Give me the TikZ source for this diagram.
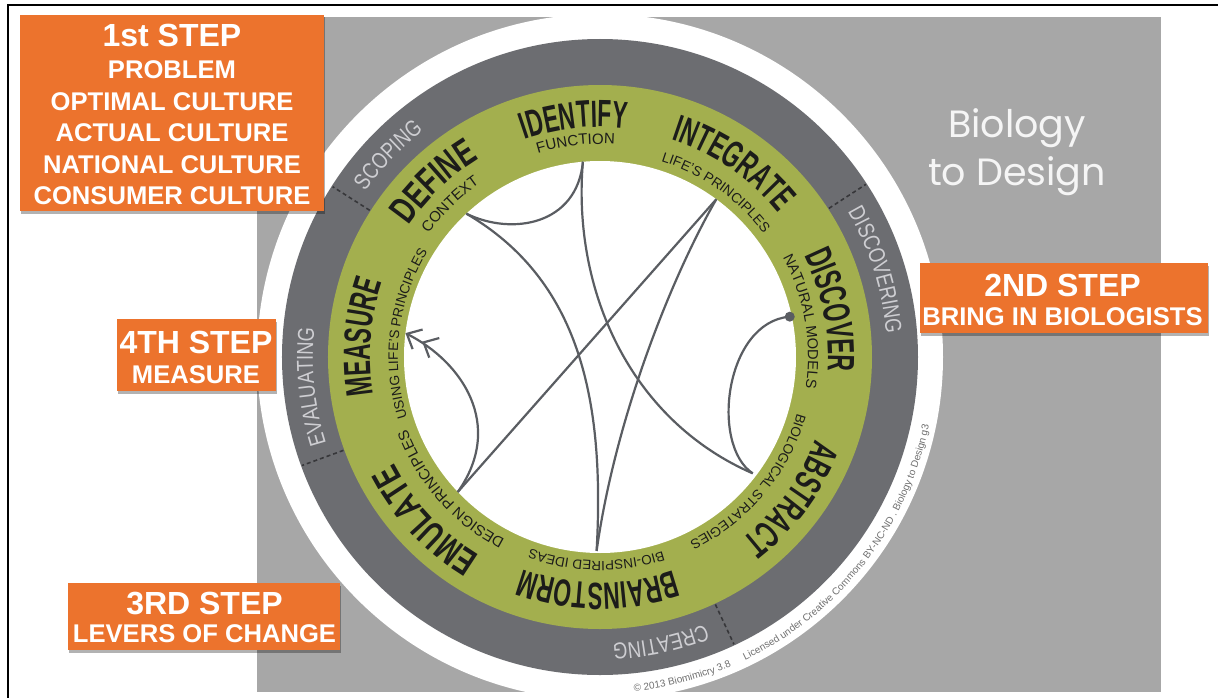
\documentclass[tikz,border=0pt]{standalone}
\usepackage{fontspec}
\setmainfont{Liberation Sans}
\newfontfamily\stagefont[FakeStretch=0.6]{Liberation Sans}
\newfontfamily\stagewide[FakeStretch=0.7]{Liberation Sans}
\newfontfamily\ringfont[FakeStretch=0.8]{Liberation Sans}
\newfontfamily\titlefont{Poppins}
\usetikzlibrary{decorations.text,arrows.meta,shadows}

\definecolor{panelgray}{RGB}{167,167,167}
\definecolor{ringgray}{RGB}{108,109,113}
\definecolor{ringgreen}{RGB}{163,175,78}
\definecolor{stepor}{RGB}{236,115,45}
\definecolor{stagetext}{RGB}{28,28,26}
\definecolor{ringtext}{RGB}{206,206,210}
\definecolor{linkgray}{RGB}{90,93,98}
\definecolor{sepgray}{RGB}{55,55,58}
\definecolor{copygray}{RGB}{112,112,112}
\definecolor{titlewhite}{RGB}{245,245,245}

% text formats for the labels set along the rings
\newcommand\bigfmt{\stagefont\bfseries\fontsize{38}{40}\selectfont\color{stagetext}}
\newcommand\widefmt{\stagewide\bfseries\fontsize{38}{40}\selectfont\color{stagetext}}
\newcommand\subfmt[1]{\fontsize{#1}{#1}\selectfont\color{stagetext}}
\newcommand\ringfmt{\ringfont\fontsize{23}{24}\selectfont\color{ringtext}}
\newcommand\copyfmt{\fontsize{10}{11}\selectfont\color{copygray}}

% clockwise arc label: angle, baseline radius, format, text (tops point outward)
\newcommand\cwlabel[4]{%
  \path[decorate,decoration={text along path,text align=center,text={|#3|#4}}]
    ({#1+70}:#2) arc[start angle={#1+70},end angle={#1-70},radius=#2];}
% counter-clockwise arc label (tops point inward)
\newcommand\ccwlabel[4]{%
  \path[decorate,decoration={text along path,text align=center,text={|#3|#4}}]
    ({#1-40}:#2) arc[start angle={#1-40},end angle={#1+40},radius=#2];}

\begin{document}
\begin{tikzpicture}[x=1pt,y=1pt,
  link/.style={draw=linkgray,line width=2.2pt},
  sepline/.style={draw=sepgray,line width=1.6pt,dash pattern=on 4pt off 3pt},
  stepbox/.style={fill=stepor,inner sep=0pt,
    drop shadow={shadow xshift=1pt,shadow yshift=-2.5pt,opacity=0.3,fill=black}},
  headtext/.style={text=white,font=\bfseries\fontsize{32}{32}\selectfont,inner sep=0pt,anchor=base},
  steptext/.style={text=white,font=\bfseries\fontsize{25.6}{26}\selectfont,inner sep=0pt,anchor=base},
  titletext/.style={text=titlewhite,font=\titlefont\fontsize{38}{40}\selectfont,inner sep=0pt,anchor=base}]

\useasboundingbox (-600,-340) rectangle (618,357);
\fill[white] (-600,-340) rectangle (618,357);

% frame edges
\draw[line width=2pt] (-592,-345) -- (-592,352) -- (625,352);

% gray panel
\fill[panelgray] (-343,-335) rectangle (561,340);

% rings
\fill[white] (0,0) circle[radius=343];
\fill[ringgray] (0,0) circle[radius=318];
\fill[ringgreen] (0,0) circle[radius=272];
\fill[white] (0,0) circle[radius=196];

% phase separators
\foreach \a in {147.5,33,-65,200}{\draw[sepline] (\a:273) -- (\a:317);}

% phase names
\cwlabel{136.4}{287}{\ringfmt}{SCOPING}
\cwlabel{17.5}{287}{\ringfmt}{DISCOVERING}
\cwlabel{-78}{287}{\ringfmt}{CREATING}
\cwlabel{185.8}{287}{\ringfmt}{EVALUATING}

% stage names
\cwlabel{133.5}{232}{\widefmt}{DEFINE}
\cwlabel{96.3}{230}{\bigfmt}{IDENTIFY}
\cwlabel{55.4}{229}{\bigfmt}{INTEGRATE}
\cwlabel{11.5}{228}{\bigfmt}{DISCOVER}
\cwlabel{-36.5}{231}{\bigfmt}{ABSTRACT}
\cwlabel{-90.5}{226}{\bigfmt}{BRAINSTORM}
\cwlabel{223}{232}{\widefmt}{EMULATE}
\cwlabel{175.2}{230}{\bigfmt}{MEASURE}

% stage subtitles
\cwlabel{134.5}{211}{\subfmt{15}}{CONTEXT}
\cwlabel{96.5}{213}{\subfmt{15}}{FUNCTION}
\cwlabel{54.9}{205}{\subfmt{13.8}}{LIFE'S PRINCIPLES}
\cwlabel{10}{208}{\subfmt{14.7}}{NATURAL MODELS}
\cwlabel{-40}{205}{\subfmt{13.6}}{BIOLOGICAL STRATEGIES}
\cwlabel{-91}{204}{\subfmt{13.4}}{BIO-INSPIRED IDEAS}
\cwlabel{221.5}{206}{\subfmt{15}}{DESIGN PRINCIPLES}
\cwlabel{173}{202}{\subfmt{13.6}}{USING LIFE'S PRINCIPLES}

% credit line
\ccwlabel{-75.6}{336}{\copyfmt}{© 2013 Biomimicry 3.8}
\ccwlabel{-38.1}{336}{\copyfmt}{Licensed under Creative Commons BY-NC-ND . Biology to Design g3}

% stage anchor points on the inner circle
\coordinate (nA) at (95:196);
\coordinate (nB) at (133:196);
\coordinate (nC) at (53.6:196);
\coordinate (nD) at (12:194);
\coordinate (nE) at (-37.3:192);
\coordinate (nF) at (-91:194);
\coordinate (nG) at (223.5:196);
\coordinate (nH) at (173:196);

% process paths
\draw[link] (nA) .. controls (-23,132) and (-88,121) .. (nB);
\draw[link] (nA) .. controls (-28,67) and (30,-63) .. (nE);
\draw[link] (nB) .. controls (-20,77) and (5,-43) .. (nF);
\draw[link] (nC) .. controls (70,77) and (15,-63) .. (nF);
\draw[link] (nC) -- (nG);
\draw[link] (nD) .. controls (125,35) and (110,-88) .. (nE);
\draw[link,-{Straight Barb[length=12pt,width=22pt,sep=4pt]Straight Barb[length=12pt,width=22pt]}]
  (nG) .. controls (-95,-68) and (-138,-5) .. (nH);
\fill[linkgray] (nD) circle[radius=5];

% title
\node[titletext] (bio1) at (417,220) {Biology};
\node[titletext] (bio2) at (417,172) {to Design};

% step boxes
\node[stepbox,minimum width=304pt,minimum height=196pt] (box1) at (-428,244) {};
\node[headtext] (box1a) at (-428,310) {1st STEP};
\node[steptext] (box1b) at (-428,278.5) {PROBLEM};
\node[steptext] (box1c) at (-428,247) {OPTIMAL CULTURE};
\node[steptext] (box1d) at (-428,215.5) {ACTUAL CULTURE};
\node[steptext] (box1e) at (-428,184) {NATIONAL CULTURE};
\node[steptext] (box1f) at (-428,152.5) {CONSUMER CULTURE};

\node[stepbox,minimum width=288pt,minimum height=70pt] (box2) at (464,59) {};
\node[headtext] (box2a) at (462.5,61) {2ND STEP};
\node[steptext] (box2b) at (462.5,32) {BRING IN BIOLOGISTS};

\node[stepbox,minimum width=159pt,minimum height=72pt] (box4) at (-403.5,2) {};
\node[headtext] (box4a) at (-404,4) {4TH STEP};
\node[steptext] (box4b) at (-404,-26) {MEASURE};

\node[stepbox,minimum width=272pt,minimum height=67pt] (box3) at (-396,-259.5) {};
\node[headtext] (box3a) at (-395.5,-257) {3RD STEP};
\node[steptext] (box3b) at (-395.5,-285) {LEVERS OF CHANGE};
\end{tikzpicture}
\end{document}
